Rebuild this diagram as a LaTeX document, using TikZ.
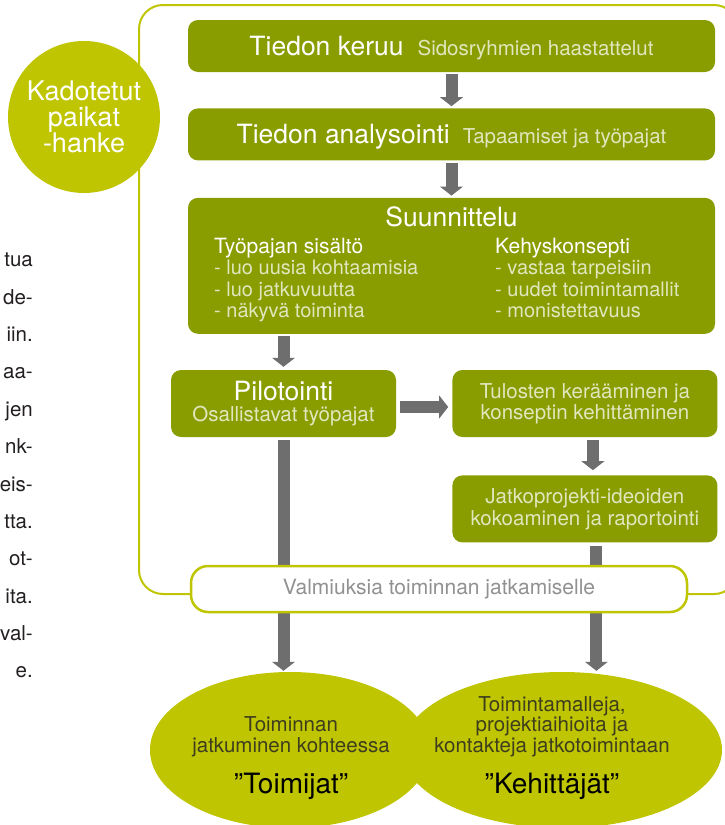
\documentclass[tikz,border=0pt]{standalone}
\usepackage{fontspec}
\setmainfont{TeX Gyre Heros}
\usetikzlibrary{positioning, shapes.geometric, arrows.meta, calc}

\definecolor{boxgreen}{RGB}{137,157,0}
\definecolor{limegreen}{RGB}{191,197,0}
\definecolor{arrowgray}{RGB}{110,110,110}
\definecolor{softtext}{RGB}{224,231,190}
\definecolor{valmgray}{RGB}{145,145,145}
\definecolor{elltext}{RGB}{62,62,30}
\definecolor{bodytext}{RGB}{35,31,32}

\newcommand{\fsz}[2]{\fontsize{#1}{#2}\selectfont}

\begin{document}
\begin{tikzpicture}[x=1pt, y=-1pt,
  stepbox/.style = {fill=boxgreen, rounded corners=10pt, inner sep=0pt, text=white, align=center},
  bar/.style = {draw=arrowgray, line width=12pt, -{Triangle[width=23pt, length=9pt, line width=0pt]}},
  oval/.style = {ellipse, fill=limegreen, inner sep=0pt, minimum height=156pt}
]

\useasboundingbox (0,0) rectangle (725,825);

% frame
\draw[limegreen, line width=2pt, rounded corners=24pt] (139,5) rectangle (738,594);

% kuvaus (cut paragraph on the left)
\node[anchor=north east, align=right, inner sep=0pt, font=\fsz{20.5}{37.35}, text=bodytext] (kuvaus) at (33,253)
  {tua\\de-\\iin.\\aa-\\jen\\nk-\\eis-\\tta.\\ot-\\ita.\\val-\\e.};

% hanke
\node[circle, fill=limegreen, minimum size=152pt, inner sep=0pt, align=center, text=white, font=\fsz{27}{25.5}] (hanke) at (84,117)
  {Kadotetut\\paikat\\-hanke};

% keruu
\node[stepbox, minimum width=527pt, minimum height=52pt, text height=19pt, text depth=0pt] (keruu) at (451.5,46)
  {{\fsz{26.5}{30}Tiedon keruu}\hspace{14pt}{\fsz{20.5}{24}\color{softtext}Sidosryhmien haastattelut}};

% anal
\node[stepbox, minimum width=527pt, minimum height=52pt, text height=19pt, text depth=0pt, below=36pt of keruu] (anal)
  {{\fsz{26.5}{30}Tiedon analysointi}\hspace{13pt}{\fsz{20.5}{24}\color{softtext}Tapaamiset ja työpajat}};

% suun
\node[stepbox, minimum width=527pt, minimum height=136pt, below=37pt of anal] (suun) {};
\node[anchor=base, text=white, font=\fsz{26.5}{30}] (suunT) at ([yshift=-29pt]suun.north) {Suunnittelu};
\node[anchor=north west, align=left, inner sep=0pt, font=\fsz{20}{21.3}, text=softtext] (sisalto) at (214,238)
  {{\color{white}\fsz{21}{21.3}Työpajan sisältö}\\- luo uusia kohtaamisia\\- luo jatkuvuutta\\- näkyvä toiminta};
\node[anchor=north west, align=left, inner sep=0pt, font=\fsz{20}{21.3}, text=softtext] (kehys) at (495,238)
  {{\color{white}\fsz{21}{21.3}Kehyskonsepti}\\- vastaa tarpeisiin\\- uudet toimintamallit\\- monistettavuus};

% pilot
\node[stepbox, minimum width=225pt, minimum height=67pt, font=\fsz{20.5}{21}] (pilot) at (283.5,403.5)
  {{\fsz{26.5}{21}Pilotointi}\\{\color{softtext}Osallistavat työpajat}};

% tulos
\node[stepbox, minimum width=265pt, minimum height=67pt, font=\fsz{20.5}{21}, text=softtext, right=56pt of pilot] (tulos)
  {Tulosten kerääminen ja\\konseptin kehittäminen};

% jatko
\node[stepbox, minimum width=265pt, minimum height=67pt, font=\fsz{20.5}{22}, text=softtext, below=38pt of tulos] (jatko)
  {Jatkoprojekti-ideoiden\\kokoaminen ja raportointi};

% toimijat, kehittajat
\node[oval, minimum width=280pt] (toimijat) at (290,750) {};
\node[oval, minimum width=320pt] (kehittajat) at (562,750) {};

%--- keruu -> anal ---
\draw[bar, shorten <=2pt, shorten >=2pt] (keruu) -- (anal);

%--- anal -> suun ---
\draw[bar, shorten <=2pt, shorten >=2pt] (anal) -- (suun);

%--- suun -> pilot ---
\draw[bar, shorten <=2pt, shorten >=3pt] (suun.south -| pilot.north) -- (pilot.north);

%--- pilot -> tulos ---
\draw[bar, shorten <=4pt, shorten >=4pt] ([yshift=-3.5pt]pilot.east) -- ([yshift=-3.5pt]tulos.west);

%--- tulos -> jatko ---
\draw[bar, shorten <=3pt, shorten >=5pt] ([xshift=8pt]tulos.south) -- ([xshift=8pt]jatko.north);

%--- pilot -> toimijat ---
\draw[bar, shorten <=3pt, shorten >=1pt] (pilot.south) -- (pilot.south |- toimijat.north);

%--- jatko -> kehittajat ---
\draw[bar, shorten <=3pt, shorten >=1pt] ([xshift=11.5pt]jatko.south) -- ([xshift=11.5pt]jatko.south |- kehittajat.north);

% valm
\node[draw=limegreen, line width=2.5pt, fill=white, rounded corners=17pt, minimum width=496pt, minimum height=46pt, inner sep=0pt,
      font=\fsz{21}{24}, text=valmgray] (valm) at (439,589) {Valmiuksia toiminnan jatkamiselle};

% texts in the ovals
\node[align=center, font=\fsz{20.5}{21}, text=elltext] (toimijatT) at (291,758.5)
  {Toiminnan\\jatkuminen kohteessa\\[15pt]{\fsz{28}{30}\color{black}”Toimijat”}};
\node[align=center, font=\fsz{20.5}{20.7}, text=elltext] (kehittajatT) at (552,748)
  {Toimintamalleja,\\projektiaihioita ja\\kontakteja jatkotoimintaan\\[15pt]{\fsz{28}{30}\color{black}”Kehittäjät”}};

\end{tikzpicture}
\end{document}
